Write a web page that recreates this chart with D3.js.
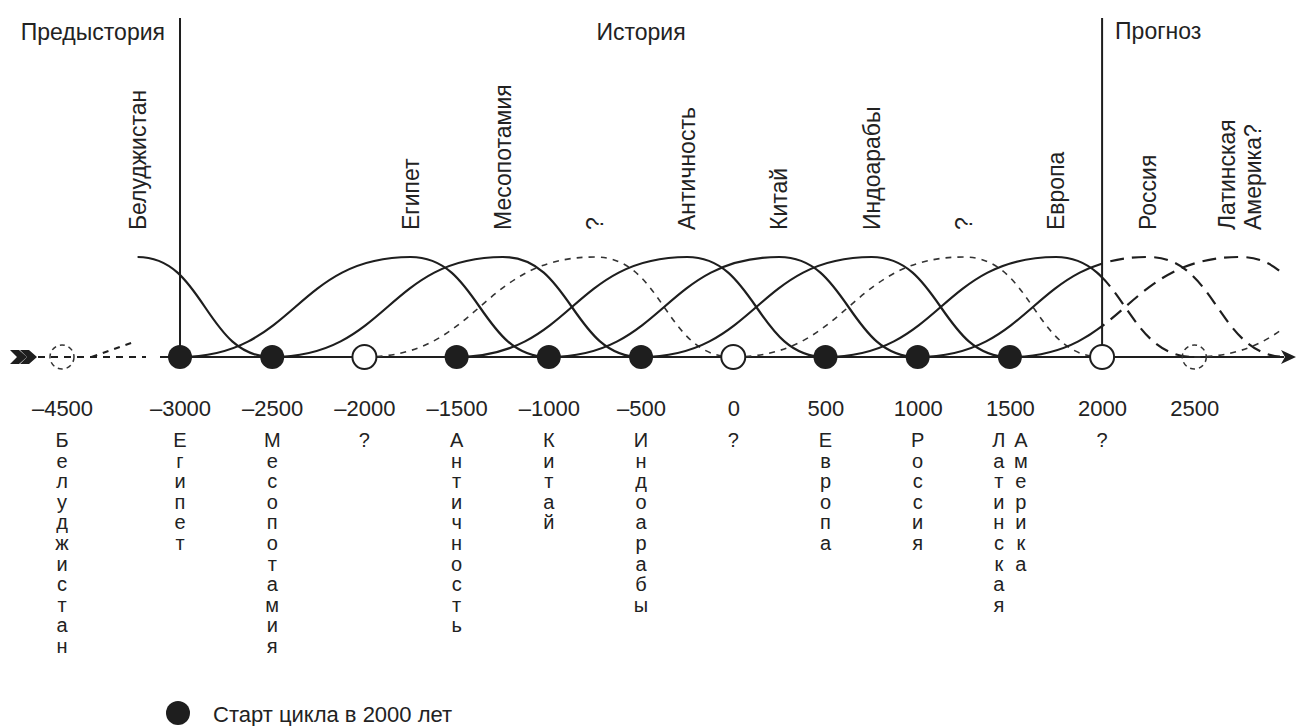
<!DOCTYPE html>
<html><head><meta charset="utf-8">
<script src="https://cdn.jsdelivr.net/npm/d3@7"></script>
<style>
html,body{margin:0;padding:0;background:#fff;}
svg{display:block;font-family:"Liberation Sans",Arial,Helvetica,sans-serif;}
</style></head>
<body><svg id="chart" width="1296" height="726"></svg>
<script>
// ---------- data ----------
const eraNames = ["Предыстория", "История", "Прогноз"];
const eraBoundaries = [-3000, 2000];

// cycles: start, peak, end (years); value 0 at start/end, 1 at peak
const cycleLabels = ["Белуджистан", "Египет", "Месопотамия", "?", "Античность", "Китай", "Индоарабы", "?", "Европа", "Россия", "Латинская\nАмерика?", ""];
const cycleStart = [-4500, -3000, -2500, -2000, -1500, -1000, -500, 0, 500, 1000, 1500, 2500];
const cyclePeak  = [-3230, -1750, -1250, -750, -250, 250, 750, 1250, 1750, 2250, 2750, 3750];
const cycleEnd   = [-2500, -1000, -500, 0, 500, 1000, 1500, 2000, 2500, 3000, 3500, 4500];
const cycleKnown = [true, true, true, false, true, true, true, false, true, true, true, false];

// start points on the time axis
const startYears  = [-4500, -3000, -2500, -2000, -1500, -1000, -500, 0, 500, 1000, 1500, 2000, 2500];
const startMarker = ["dashed", "filled", "filled", "open", "filled", "filled", "filled", "open", "filled", "filled", "filled", "open", "dashed"];
const startNames  = ["Белуджистан", "Египет", "Месопотамия", "?", "Античность", "Китай", "Индоарабы", "?", "Европа", "Россия", "Латинская|Америка", "?", ""];
const tickLabels  = ["–4500", "–3000", "–2500", "–2000", "–1500", "–1000", "–500", "0", "500", "1000", "1500", "2000", "2500"];

const prehistoryHint = [[-3480, 0], [-3250, 0.15]];
const forecastFrom = 2000;
const drawUntil = 2965;
const legendText = "Старт цикла в 2000 лет";

// ---------- layout ----------
const svg = d3.select("#chart");
const ink = "#1e1e1e";
const axisY = 357;
// broken axis: -4500..-3500 compressed, then linear
const x = d3.scaleLinear().domain([-4500, -3500, 2500]).range([62, 87.8, 1194.3]);
const y = d3.scaleLinear().domain([0, 1]).range([axisY, 257]);

const defs = svg.append("defs");
defs.append("clipPath").attr("id", "past").append("rect")
  .attr("x", 0).attr("y", 0).attr("width", x(forecastFrom)).attr("height", 726);
defs.append("clipPath").attr("id", "future").append("rect")
  .attr("x", x(forecastFrom)).attr("y", 0).attr("width", x(drawUntil) - x(forecastFrom)).attr("height", 726);
defs.append("clipPath").attr("id", "all").append("rect")
  .attr("x", 0).attr("y", 0).attr("width", x(drawUntil)).attr("height", 726);

// ---------- era dividers & titles ----------
eraBoundaries.forEach(b => {
  svg.append("line").attr("x1", x(b)).attr("x2", x(b)).attr("y1", 18).attr("y2", axisY)
    .attr("stroke", ink).attr("stroke-width", 2);
});
const eraG = svg.append("g").attr("font-size", 23).attr("fill", "#222");
eraG.append("text").attr("x", x(eraBoundaries[0]) - 15).attr("y", 40).attr("text-anchor", "end").text(eraNames[0]);
eraG.append("text").attr("x", (x(eraBoundaries[0]) + x(eraBoundaries[1])) / 2).attr("y", 40).attr("text-anchor", "middle").text(eraNames[1]);
eraG.append("text").attr("x", x(eraBoundaries[1]) + 13).attr("y", 39).attr("text-anchor", "start").text(eraNames[2]);

// ---------- axis line ----------
svg.append("line").attr("x1", 160).attr("x2", 1284).attr("y1", axisY).attr("y2", axisY)
  .attr("stroke", ink).attr("stroke-width", 2);
svg.append("line").attr("x1", 38).attr("x2", 146).attr("y1", axisY).attr("y2", axisY)
  .attr("stroke", ink).attr("stroke-width", 2.2).attr("stroke-dasharray", "7,6");
// arrowhead right
svg.append("path").attr("d", `M1281,${axisY - 7} L1296,${axisY} L1281,${axisY + 7} L1285,${axisY} Z`).attr("fill", ink);
// arrow tail left (fletching)
[0, 10].forEach(o => {
  svg.append("path")
    .attr("d", `M${10 + o},${axisY - 7} L${19 + o},${axisY - 7} L${27 + o},${axisY} L${19 + o},${axisY + 7} L${10 + o},${axisY + 7} L${17 + o},${axisY} Z`)
    .attr("fill", ink);
});

// prehistory hint
svg.append("path").datum(prehistoryHint)
  .attr("d", d3.line().x(d => x(d[0])).y(d => y(d[1])))
  .attr("fill", "none").attr("stroke", ink).attr("stroke-width", 2).attr("stroke-dasharray", "6,6");

// ---------- cycle curves ----------
const curve = d3.line().x(d => x(d[0])).y(d => y(d[1])).curve(d3.curveBumpX);
const curveG = svg.append("g").attr("fill", "none");
cycleStart.forEach((s, i) => {
  const pts = s < -3500 ? [[cyclePeak[i], 1], [cycleEnd[i], 0]]
                        : [[s, 0], [cyclePeak[i], 1], [cycleEnd[i], 0]];
  if (cycleKnown[i]) {
    curveG.append("path").attr("d", curve(pts)).attr("clip-path", "url(#past)")
      .attr("stroke", ink).attr("stroke-width", 2.2);
    curveG.append("path").attr("d", curve(pts)).attr("clip-path", "url(#future)")
      .attr("stroke", ink).attr("stroke-width", 2.2).attr("stroke-dasharray", "14,8");
  } else {
    curveG.append("path").attr("d", curve(pts)).attr("clip-path", "url(#all)")
      .attr("stroke", "#333").attr("stroke-width", 1.6).attr("stroke-dasharray", "6,6");
  }
});

// ---------- cycle labels (rotated) ----------
const labG = svg.append("g").attr("font-size", 23).attr("fill", "#222");
cycleLabels.forEach((lab, i) => {
  if (!lab) return;
  const lines = lab.split("\n");
  const bx = x(cyclePeak[i]) + 8 - (lines.length - 1) * 13;
  const t = labG.append("text").attr("transform", `translate(${bx},230) rotate(-90)`).attr("text-anchor", "start");
  lines.forEach((ln, k) => t.append("tspan").attr("x", 0).attr("dy", k === 0 ? 0 : 26).text(ln));
});

// ---------- start markers ----------
const mk = svg.append("g");
startYears.forEach((yr, i) => {
  const c = mk.append("circle").attr("cx", x(yr)).attr("cy", axisY).attr("r", 12);
  if (startMarker[i] === "filled") c.attr("fill", ink);
  else if (startMarker[i] === "open") c.attr("fill", "#fff").attr("stroke", ink).attr("stroke-width", 2);
  else c.attr("fill", "none").attr("stroke", "#333").attr("stroke-width", 1.5).attr("stroke-dasharray", "5,4");
});

// ---------- tick labels via axis ----------
const axisG = svg.append("g").attr("transform", `translate(0,${axisY})`)
  .call(d3.axisBottom(x).tickValues(startYears).tickSize(0).tickPadding(43)
    .tickFormat((d, i) => tickLabels[i]));
axisG.select(".domain").remove();
axisG.selectAll("text").attr("font-size", 22).attr("fill", "#222")
  .attr("font-family", '"Liberation Sans",Arial,Helvetica,sans-serif');

// ---------- letter stacks ----------
const stackG = svg.append("g").attr("font-size", 20).attr("fill", "#222").attr("text-anchor", "middle");
startNames.forEach((nm, i) => {
  if (!nm) return;
  const cols = nm.split("|");
  cols.forEach((word, c) => {
    const cx = x(startYears[i]) + (cols.length > 1 ? (c === 0 ? -11 : 11) : 0);
    Array.from(word).forEach((ch, k) => {
      stackG.append("text").attr("x", cx).attr("y", 447 + k * 20.6).text(ch);
    });
  });
});

// ---------- legend ----------
svg.append("circle").attr("cx", 178).attr("cy", 713).attr("r", 12).attr("fill", ink);
svg.append("text").attr("x", 213).attr("y", 722).attr("font-size", 22).attr("fill", "#222").text(legendText);
</script></body></html>
